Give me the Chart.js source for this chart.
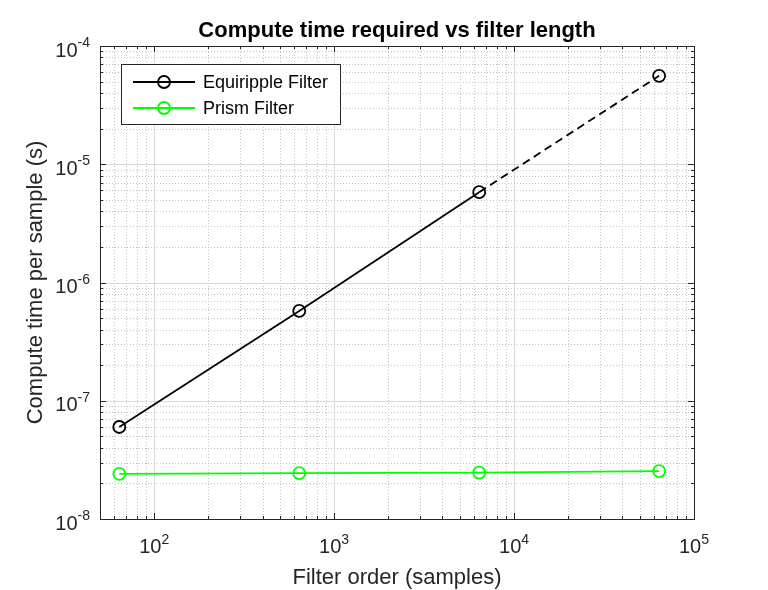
<!DOCTYPE html>
<html>
<head>
<meta charset="utf-8">
<script src="https://cdn.jsdelivr.net/npm/chart.js@4"></script>
<style>
  body { margin: 0; background: #fff; }
  canvas { display: block; }
</style>
</head>
<body>
<canvas id="myChart" width="768" height="590"></canvas>
<script>
// filter orders (samples) and compute time per sample (s)
var filterOrders = [64, 640, 6400, 64000];
var equirippleTimes = [6.0e-8, 5.75e-7, 5.8e-6, 5.6e-5];
var prismTimes = [2.41e-8, 2.44e-8, 2.47e-8, 2.54e-8];
var seriesNames = ["Equiripple Filter", "Prism Filter"];
// the last equiripple segment is drawn dashed
var dashedFromIndex = 2;

var xTickExps = [2, 3, 4, 5];
var yTickExps = [-8, -7, -6, -5, -4];

var axisColor = "#262626";
var font = "Arial, 'Liberation Sans', Helvetica, sans-serif";

function toPoints(xs, ys) {
  return xs.map(function (x, i) { return { x: x, y: ys[i] }; });
}

// all 1..9 x 10^k values inside [min, max]
function logValues(min, max) {
  var out = [];
  for (var k = Math.floor(Math.log10(min)); k <= Math.ceil(Math.log10(max)); k++) {
    for (var m = 1; m <= 9; m++) {
      var v = m * Math.pow(10, k);
      if (v >= min * 0.9999 && v <= max * 1.0001) out.push({ v: v, major: m === 1 });
    }
  }
  return out;
}

function drawPow(ctx, x, y, exp, align) {
  // y is the baseline of "10"
  ctx.font = "20px " + font;
  var wBase = ctx.measureText("10").width;
  ctx.font = "14px " + font;
  var wExp = ctx.measureText(String(exp)).width;
  var total = wBase + wExp;
  var start = align === "right" ? x - total : x - total / 2;
  ctx.textAlign = "left";
  ctx.textBaseline = "alphabetic";
  ctx.fillStyle = axisColor;
  ctx.font = "20px " + font;
  ctx.fillText("10", start, y);
  ctx.font = "14px " + font;
  ctx.fillText(String(exp), start + wBase, y - 9.5);
}

var matlabAxes = {
  id: "matlabAxes",
  beforeDatasetsDraw: function (chart) {
    var ctx = chart.ctx, a = chart.chartArea;
    var xs = chart.scales.x, ys = chart.scales.y;
    ctx.save();
    ctx.lineWidth = 1;
    logValues(xs.min, xs.max).forEach(function (t) {
      var px = Math.round(xs.getPixelForValue(t.v)) + 0.5;
      ctx.strokeStyle = t.major ? "rgb(218,218,218)" : "rgb(195,195,195)";
      ctx.setLineDash(t.major ? [] : [1, 2]);
      ctx.beginPath(); ctx.moveTo(px, a.top); ctx.lineTo(px, a.bottom); ctx.stroke();
    });
    logValues(ys.min, ys.max).forEach(function (t) {
      var py = Math.round(ys.getPixelForValue(t.v)) + 0.5;
      ctx.strokeStyle = t.major ? "rgb(218,218,218)" : "rgb(195,195,195)";
      ctx.setLineDash(t.major ? [] : [1, 2]);
      ctx.beginPath(); ctx.moveTo(a.left, py); ctx.lineTo(a.right, py); ctx.stroke();
    });
    ctx.restore();
  },
  afterDatasetsDraw: function (chart) {
    var ctx = chart.ctx, a = chart.chartArea;
    var xs = chart.scales.x, ys = chart.scales.y;
    ctx.save();
    ctx.strokeStyle = axisColor;
    ctx.lineWidth = 1;
    ctx.setLineDash([]);
    // inner ticks on all four sides
    logValues(xs.min, xs.max).forEach(function (t) {
      var px = Math.round(xs.getPixelForValue(t.v)) + 0.5;
      var len = t.major ? 6 : 3;
      ctx.beginPath();
      ctx.moveTo(px, a.bottom); ctx.lineTo(px, a.bottom - len);
      ctx.moveTo(px, a.top); ctx.lineTo(px, a.top + len);
      ctx.stroke();
    });
    logValues(ys.min, ys.max).forEach(function (t) {
      var py = Math.round(ys.getPixelForValue(t.v)) + 0.5;
      var len = t.major ? 6 : 3;
      ctx.beginPath();
      ctx.moveTo(a.left, py); ctx.lineTo(a.left + len, py);
      ctx.moveTo(a.right, py); ctx.lineTo(a.right - len, py);
      ctx.stroke();
    });
    ctx.strokeRect(Math.round(a.left) + 0.5, Math.round(a.top) + 0.5,
      Math.round(a.right - a.left), Math.round(a.bottom - a.top));

    // legend box inside the axes
    var ds = chart.data.datasets;
    var bx = 121.5, by = 64.5, bw = 219, bh = 60;
    ctx.fillStyle = "#fff";
    ctx.fillRect(bx, by, bw, bh);
    ctx.strokeStyle = axisColor;
    ctx.strokeRect(bx, by, bw, bh);
    ds.forEach(function (d, i) {
      var ry = 82 + i * 26;
      ctx.strokeStyle = d.borderColor;
      ctx.lineWidth = d.borderWidth;
      ctx.beginPath(); ctx.moveTo(133, ry); ctx.lineTo(195, ry); ctx.stroke();
      ctx.lineWidth = d.pointBorderWidth;
      ctx.beginPath(); ctx.arc(164, ry, d.pointRadius, 0, Math.PI * 2); ctx.stroke();
      ctx.fillStyle = "#000";
      ctx.font = "18px " + font;
      ctx.textAlign = "left";
      ctx.textBaseline = "middle";
      ctx.fillText(d.label, 203, ry + 1);
    });
    ctx.restore();
  },
  afterDraw: function (chart) {
    var ctx = chart.ctx, a = chart.chartArea;
    var xs = chart.scales.x, ys = chart.scales.y;
    var cx = (a.left + a.right) / 2, cy = (a.top + a.bottom) / 2;
    ctx.save();
    xTickExps.forEach(function (e) {
      drawPow(ctx, xs.getPixelForValue(Math.pow(10, e)), 553, e, "center");
    });
    yTickExps.forEach(function (e) {
      drawPow(ctx, a.left - 10, ys.getPixelForValue(Math.pow(10, e)) + 10.5, e, "right");
    });
    ctx.fillStyle = "#000";
    ctx.textBaseline = "alphabetic";
    ctx.textAlign = "center";
    ctx.font = "bold 22px " + font;
    ctx.fillText("Compute time required vs filter length", cx, 37);
    ctx.fillStyle = axisColor;
    ctx.font = "22px " + font;
    ctx.fillText("Filter order (samples)", cx, 584);
    ctx.translate(42, cy);
    ctx.rotate(-Math.PI / 2);
    ctx.fillText("Compute time per sample (s)", 0, 0);
    ctx.restore();
  }
};

new Chart("myChart", {
  type: "scatter",
  data: {
    datasets: [{
      label: seriesNames[0],
      data: toPoints(filterOrders, equirippleTimes),
      showLine: true,
      borderColor: "#000",
      borderWidth: 1.8,
      pointRadius: 6,
      pointBorderWidth: 1.8,
      pointBorderColor: "#000",
      pointBackgroundColor: "rgba(0,0,0,0)",
      segment: {
        borderDash: function (ctx) { return ctx.p0DataIndex >= dashedFromIndex ? [8, 5] : undefined; }
      }
    }, {
      label: seriesNames[1],
      data: toPoints(filterOrders, prismTimes),
      showLine: true,
      borderColor: "#00ff00",
      borderWidth: 1.8,
      pointRadius: 6,
      pointBorderWidth: 1.8,
      pointBorderColor: "#00ff00",
      pointBackgroundColor: "rgba(0,0,0,0)"
    }]
  },
  options: {
    responsive: false,
    animation: false,
    layout: { padding: { left: 100, right: 74, top: 46, bottom: 71 } },
    plugins: {
      legend: { display: false },
      title: { display: false },
      tooltip: { enabled: false }
    },
    scales: {
      x: { type: "logarithmic", min: 50, max: 100000, display: false },
      y: { type: "logarithmic", min: 1e-8, max: 1e-4, display: false }
    }
  },
  plugins: [matlabAxes]
});
</script>
</body>
</html>
